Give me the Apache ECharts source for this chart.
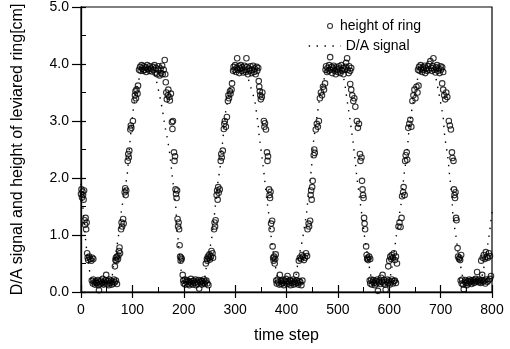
<!DOCTYPE html>
<html>
<head>
<meta charset="utf-8">
<script src="https://cdn.jsdelivr.net/npm/echarts@6/dist/echarts.min.js"></script>
<style>
html,body{margin:0;padding:0;background:#fff;}
#chart{width:510px;height:349px;}
</style>
</head>
<body>
<div id="chart"></div>
<script>
// ---- axis settings ----
var xTicks = [0, 100, 200, 300, 400, 500, 600, 700, 800];
var yTicks = [0.0, 1.0, 2.0, 3.0, 4.0, 5.0];
var xName = 'time step';
var yName = 'D/A signal and height of leviared ring[cm]';
var seriesNames = ['height of ring', 'D/A signal'];

// ---- D/A signal (time step, value) ----
var daCycle1 = [[0,1.9],[4,1.45],[8,1.0],[12,0.65],[16,0.4],[20,0.22],[25,0.15],[58,0.15],[61,0.3],[64,0.5],[69,0.74],[74,1.05],[78,1.38],[82,1.62],[86,1.84],[90,2.05],[94,2.5],[97,2.8],[100,3.07],[105,3.42],[110,3.65],[115,3.8],[120,3.88],[140,3.88],[144,3.8],[148,3.66],[153,3.45],[158,3.22],[164,2.88],[168,2.7],[172,2.48],[175,2.25],[178,2.0],[181,1.78],[185,1.44],[187,1.1],[191,0.74],[193,0.5],[196,0.3],[200,0.17],[205,0.15]];
var daCycle2 = [[238,0.15],[241,0.25],[244,0.44],[249,0.68],[254,0.91],[260,1.38],[266,1.9],[271,2.2],[276,2.67],[282,3.2],[289,3.5],[295,3.78],[300,3.88],[322,3.88],[328,3.66],[333,3.52],[338,3.37],[344,3.0],[347,2.72],[353,2.32],[357,2.02],[361,1.67],[367,1.26],[372,0.8],[377,0.56],[380,0.35],[385,0.18],[390,0.15]];
var daCycle3 = [[414,0.15],[418,0.25],[422,0.5],[426,0.7],[431,0.91],[435,1.15],[439,1.38],[445,1.9],[449,2.2],[452,2.6],[458,3.0],[464,3.37],[470,3.66],[478,3.85],[484,3.88],[508,3.88],[513,3.68],[519,3.3],[524,3.0],[529,2.67],[533,2.37],[537,2.0],[542,1.67],[548,1.26],[552,0.97],[556,0.74],[560,0.5],[564,0.3],[568,0.17],[572,0.15]];
var daCycle4 = [[596,0.15],[600,0.2],[604,0.35],[607,0.55],[611,0.8],[617,1.2],[624,1.6],[628,2.0],[634,2.4],[639,2.9],[644,3.2],[650,3.5],[656,3.78],[662,3.88],[688,3.88],[692,3.7],[698,3.42],[705,3.07],[708,2.72],[714,2.37],[718,2.0],[722,1.67],[724,1.32],[730,0.97],[734,0.68],[738,0.5],[742,0.3],[746,0.18],[750,0.15],[776,0.15],[780,0.25],[784,0.42],[788,0.62],[792,0.85],[796,1.1],[800,1.4]];

// ---- height of ring (time step, value) ----
var ringStart = [[0,1.72],[1,1.8],[2,1.66],[3,1.76],[4,1.7],[5,1.62],[6,1.78],[7,1.26],[8,1.18],[9,1.3],[10,1.1],[11,1.22],[12,0.68],[13,0.6],[14,0.56],[16,0.62],[18,0.58],[20,0.55],[22,0.6],[24,0.58]];
var ringLow1 = [[21,0.2],[23,0.15],[24,0.22],[26,0.17],[27,0.13],[29,0.19],[30,0.16],[31,0.15],[33,0.21],[34,0.12],[35,0.03],[36,0.18],[38,0.14],[39,0.2],[41,0.16],[42,0.23],[44,0.13],[45,0.18],[47,0.15],[48,0.21],[49,0.3],[51,0.14],[52,0.19],[54,0.12],[55,0.22],[57,0.16],[58,0.2],[60,0.13],[61,0.18],[63,0.15],[64,0.22],[66,0.17],[68,0.2],[70,0.14]];
var ringRise1 = [[66,0.45],[67,0.56],[68,0.6],[69,0.55],[70,0.62],[72,0.58],[73,0.64],[74,0.72],[75,0.78],[76,0.68],[78,1.1],[79,1.22],[80,1.15],[82,1.28],[83,1.2],[85,1.75],[86,1.82],[87,1.7],[88,1.78],[91,2.3],[92,2.42],[93,2.36],[94,2.48],[96,2.85],[97,2.92],[98,2.88],[101,3.0],[104,3.36],[105,3.45],[106,3.52],[107,3.4],[108,3.55],[110,3.48],[111,3.62]];
var ringTop1 = [[113,3.9],[115,3.95],[116,3.88],[118,3.98],[119,3.92],[121,3.88],[122,3.96],[124,3.9],[126,3.94],[127,3.86],[129,3.98],[131,3.91],[133,3.88],[134,3.96],[136,3.92],[138,3.87],[140,3.95],[141,3.9],[143,3.98],[145,3.84],[146,3.93],[148,3.82],[150,3.9],[151,3.96],[153,3.8],[155,3.92],[156,3.84],[158,3.97],[159,3.82],[161,3.9],[163,4.07]];
var ringFall1 = [[164,3.82],[165,3.68],[166,3.5],[167,3.38],[169,3.45],[170,3.55],[172,3.42],[173,3.36],[175,3.48],[177,2.98],[178,2.86],[179,3.0],[181,2.45],[182,2.3],[183,2.38],[184,1.8],[185,1.72],[186,1.65],[187,1.78],[188,1.28],[189,1.15],[190,1.22],[191,1.1],[192,0.82],[193,0.62],[194,0.55],[195,0.6],[196,0.58],[198,0.3]];
var ringLow2 = [[199,0.2],[200,0.15],[202,0.22],[203,0.13],[205,0.18],[206,0.21],[208,0.14],[209,0.19],[211,0.12],[212,0.17],[214,0.23],[215,0.15],[217,0.19],[218,0.13],[220,0.2],[221,0.16],[223,0.22],[224,0.12],[226,0.18],[227,0.15],[229,0.21],[230,0.06],[232,0.17],[233,0.2],[235,0.13],[236,0.19],[238,0.16],[239,0.22],[241,0.14],[242,0.18],[244,0.2],[246,0.15],[248,0.12]];
var ringRise2 = [[243,0.5],[245,0.58],[246,0.55],[247,0.62],[249,0.6],[250,0.66],[251,0.57],[253,0.62],[254,0.72],[256,0.68],[257,0.6],[259,1.1],[260,1.22],[261,1.15],[262,1.26],[264,1.7],[265,1.78],[266,1.62],[267,1.84],[268,1.74],[270,1.8],[272,2.3],[273,2.42],[274,2.36],[276,2.48],[278,2.86],[279,2.95],[280,3.0],[282,2.9],[284,3.07],[286,3.35],[287,3.45],[288,3.4],[290,3.52],[291,3.48],[293,3.55],[294,3.66]];
var ringTop2 = [[296,3.88],[297,3.95],[299,3.9],[300,3.98],[302,3.86],[303,3.93],[304,4.1],[305,3.9],[307,3.96],[308,3.84],[310,3.92],[311,3.98],[313,3.88],[314,3.94],[316,3.85],[318,3.97],[319,3.9],[321,3.86],[322,4.1],[323,3.95],[325,3.82],[327,3.92],[328,3.88],[330,3.96],[332,3.84],[333,3.9],[335,3.97],[337,3.86],[338,3.92],[340,3.82],[342,3.95],[343,3.88],[345,3.93]];
var ringFall2 = [[346,3.7],[347,3.6],[348,3.52],[349,3.45],[350,3.38],[352,3.42],[353,3.5],[356,3.0],[357,2.9],[358,2.96],[360,2.85],[362,2.45],[363,2.3],[364,2.38],[366,1.8],[367,1.7],[368,1.65],[369,1.76],[370,1.2],[371,1.1],[372,1.25],[373,0.8],[374,0.6],[375,0.55],[376,0.62],[377,0.5],[378,0.58],[379,0.66]];
var ringLow3 = [[380,0.2],[381,0.15],[383,0.22],[384,0.17],[386,0.13],[387,0.3],[389,0.19],[390,0.14],[392,0.21],[393,0.16],[395,0.12],[396,0.2],[398,0.17],[399,0.23],[401,0.14],[402,0.28],[404,0.18],[405,0.15],[407,0.21],[408,0.12],[410,0.19],[411,0.16],[413,0.22],[414,0.13],[416,0.18],[417,0.15],[419,0.3],[420,0.2],[422,0.16],[423,0.13],[425,0.19],[427,0.17],[429,0.12],[431,0.2]];
var ringRise3 = [[424,0.55],[426,0.6],[428,0.58],[430,0.65],[432,0.62],[434,0.56],[436,0.6],[438,0.68],[440,0.63],[441,1.1],[443,1.2],[444,1.15],[446,1.25],[447,1.7],[448,1.78],[449,1.62],[450,1.84],[451,1.95],[453,2.4],[454,2.5],[455,2.44],[457,2.85],[459,2.95],[461,2.9],[463,3.0],[465,3.4],[467,3.5],[469,3.45],[471,3.6],[473,3.55],[475,3.66]];
var ringTop3 = [[476,3.9],[477,3.96],[479,3.86],[480,3.93],[482,3.88],[483,3.98],[485,4.12],[486,3.9],[488,3.95],[489,3.84],[491,3.92],[492,3.97],[494,3.88],[496,3.82],[497,3.94],[499,3.9],[500,3.86],[502,3.96],[503,3.92],[505,3.84],[507,3.98],[508,3.88],[510,3.93],[511,3.82],[513,3.9],[515,3.95],[516,4.02],[518,4.1],[519,3.9],[521,3.84],[522,3.96],[524,3.88],[526,3.93]];
var ringFall3 = [[524,3.65],[526,3.55],[528,3.45],[530,3.35],[532,3.4],[534,3.25],[537,3.0],[539,2.88],[541,2.95],[543,2.42],[544,2.3],[546,2.36],[547,1.95],[548,1.8],[549,1.7],[550,1.65],[551,1.3],[552,1.2],[553,1.1],[555,0.8],[556,0.65],[557,0.58],[558,0.6],[559,0.56],[561,0.62],[563,0.58]];
var ringLow4 = [[562,0.2],[563,0.15],[565,0.22],[566,0.13],[568,0.18],[569,0.21],[571,0.16],[572,0.12],[574,0.19],[575,0.15],[577,0.22],[578,0.02],[580,0.17],[581,0.2],[583,0.14],[584,0.25],[586,0.18],[587,0.3],[589,0.15],[590,0.21],[592,0.13],[593,0.04],[595,0.18],[596,0.22],[598,0.16],[599,0.2],[601,0.13],[603,0.18],[605,0.22],[607,0.15],[609,0.19],[611,0.2],[613,0.16]];
var ringRise4 = [[598,0.45],[600,0.55],[602,0.62],[604,0.58],[605,0.65],[607,0.6],[609,0.68],[611,0.56],[613,0.62],[615,0.5],[618,1.15],[620,1.22],[622,1.14],[624,1.3],[625,1.68],[627,1.75],[628,1.84],[630,1.7],[631,2.3],[632,2.4],[634,2.45],[635,2.32],[637,2.88],[639,2.95],[641,3.02],[643,2.9],[645,3.35],[647,3.45],[649,3.55],[651,3.4],[653,3.6],[655,3.5],[657,3.62]];
var ringTop4 = [[656,3.9],[658,3.95],[659,3.88],[661,3.98],[662,3.92],[664,3.86],[666,3.94],[667,3.9],[669,3.97],[670,3.84],[672,3.92],[674,3.88],[675,3.96],[677,3.9],[678,4.0],[680,4.05],[682,3.93],[683,3.88],[685,3.96],[686,4.1],[688,3.9],[690,3.85],[691,3.94],[693,3.98],[695,3.88],[696,3.92],[698,3.84],[700,3.96],[701,3.9],[703,3.94],[705,3.86]];
var ringFall4 = [[703,3.66],[705,3.55],[707,3.45],[709,3.38],[711,3.5],[713,3.42],[716,3.0],[718,2.92],[720,2.85],[722,2.45],[723,2.35],[725,2.3],[726,1.8],[727,1.7],[728,1.65],[729,1.75],[730,1.3],[731,1.26],[733,0.77],[734,0.62],[736,0.58],[737,0.6],[738,0.56],[740,0.65]];
var ringLow5 = [[739,0.2],[741,0.15],[742,0.22],[744,0.13],[745,0.05],[747,0.18],[748,0.21],[750,0.16],[751,0.12],[753,0.19],[754,0.15],[756,0.22],[757,0.17],[759,0.2],[760,0.14],[762,0.18],[763,0.21],[765,0.16],[766,0.2],[768,0.23],[769,0.18],[771,0.35],[772,0.2],[774,0.17],[775,0.22],[777,0.19],[778,0.16],[780,0.21],[781,0.3],[783,0.18],[785,0.2],[787,0.15],[789,0.22],[791,0.18],[793,0.2],[796,0.23],[798,0.28]];
var ringRise5 = [[779,0.55],[782,0.6],[784,0.65],[786,0.58],[788,0.7],[790,0.62],[792,0.6],[794,0.68],[796,0.63]];

var daData = [].concat(daCycle1, daCycle2, daCycle3, daCycle4);
var ringData = [].concat(ringStart, ringLow1, ringRise1, ringTop1, ringFall1,
  ringLow2, ringRise2, ringTop2, ringFall2, ringLow3, ringRise3, ringTop3, ringFall3,
  ringLow4, ringRise4, ringTop4, ringFall4, ringLow5, ringRise5);

var FONT = '"Liberation Sans", Arial, Helvetica, sans-serif';
var xMin = xTicks[0], xMax = xTicks[xTicks.length - 1], xStep = xTicks[1] - xTicks[0];
var yMin = yTicks[0], yMax = yTicks[yTicks.length - 1], yStep = yTicks[1] - yTicks[0];

var chart = echarts.init(document.getElementById('chart'), null, {renderer: 'canvas'});
chart.setOption({
  animation: false,
  backgroundColor: '#fff',
  textStyle: {fontFamily: FONT, color: '#000'},
  grid: {left: 81, right: 18, top: 7, bottom: 57, show: true, borderColor: '#000', borderWidth: 1.2, backgroundColor: 'transparent'},
  legend: [
    {data: [seriesNames[0]], left: 322, top: 14, orient: 'vertical', itemWidth: 10, itemHeight: 5,
     itemStyle: {color: 'rgba(255,255,255,0)', borderColor: '#000', borderWidth: 1.1},
     textStyle: {fontSize: 14, color: '#000', fontFamily: FONT}},
    {data: [seriesNames[1]], left: 303, top: 34, orient: 'vertical', itemWidth: 32, itemHeight: 8,
     itemStyle: {opacity: 0, color: 'rgba(0,0,0,0)', borderColor: 'rgba(0,0,0,0)', borderWidth: 0},
     lineStyle: {color: '#000', width: 1.4, type: [1.4, 6.5], opacity: 1},
     textStyle: {fontSize: 14, color: '#000', fontFamily: FONT}}
  ],
  xAxis: [
    {type: 'value', min: xMin, max: xMax, interval: xStep, position: 'bottom',
     name: xName, nameLocation: 'middle', nameGap: 36,
     nameTextStyle: {fontSize: 16, color: '#000', fontFamily: FONT},
     axisLine: {show: true, lineStyle: {color: '#000', width: 1.3}},
     axisTick: {show: true, inside: true, length: 7, lineStyle: {color: '#000', width: 1.2}},
     minorTick: {show: true, splitNumber: 2, length: 5, lineStyle: {color: '#000', width: 1}},
     axisLabel: {fontSize: 14, color: '#000', margin: 11, fontFamily: FONT},
     splitLine: {show: false}},
    {type: 'value', min: xMin, max: xMax, interval: xStep, position: 'bottom',
     axisLine: {show: false},
     axisTick: {show: true, inside: false, length: 6, lineStyle: {color: '#000', width: 1.2}},
     axisLabel: {show: false}, splitLine: {show: false}}
  ],
  yAxis: [
    {type: 'value', min: yMin, max: yMax, interval: yStep, position: 'left',
     name: yName, nameLocation: 'middle', nameGap: 55, nameRotate: 90,
     nameTextStyle: {fontSize: 16, color: '#000', fontFamily: FONT},
     axisLine: {show: true, lineStyle: {color: '#000', width: 1.3}},
     axisTick: {show: true, inside: true, length: 5, lineStyle: {color: '#000', width: 1.2}},
     minorTick: {show: true, splitNumber: 2, length: 5, lineStyle: {color: '#000', width: 1}},
     axisLabel: {fontSize: 14, color: '#000', margin: 12, fontFamily: FONT,
       formatter: function (v) { return v.toFixed(1); }},
     splitLine: {show: false}},
    {type: 'value', min: yMin, max: yMax, interval: yStep, position: 'left',
     axisLine: {show: false},
     axisTick: {show: true, inside: false, length: 9, lineStyle: {color: '#000', width: 1.2}},
     axisLabel: {show: false}, splitLine: {show: false}}
  ],
  series: [
    {name: seriesNames[0], type: 'scatter', xAxisIndex: 0, yAxisIndex: 0,
     data: ringData, symbol: 'circle', symbolSize: 5.5,
     itemStyle: {color: 'rgba(255,255,255,0)', borderColor: '#000', borderWidth: 1.1},
     z: 3},
    {name: seriesNames[1], type: 'line', xAxisIndex: 0, yAxisIndex: 0,
     data: daData, symbol: 'none', smooth: false,
     lineStyle: {color: '#000', width: 1.4, type: [1.4, 6.5]},
     itemStyle: {color: '#000'},
     z: 2}
  ]
});
</script>
</body>
</html>
